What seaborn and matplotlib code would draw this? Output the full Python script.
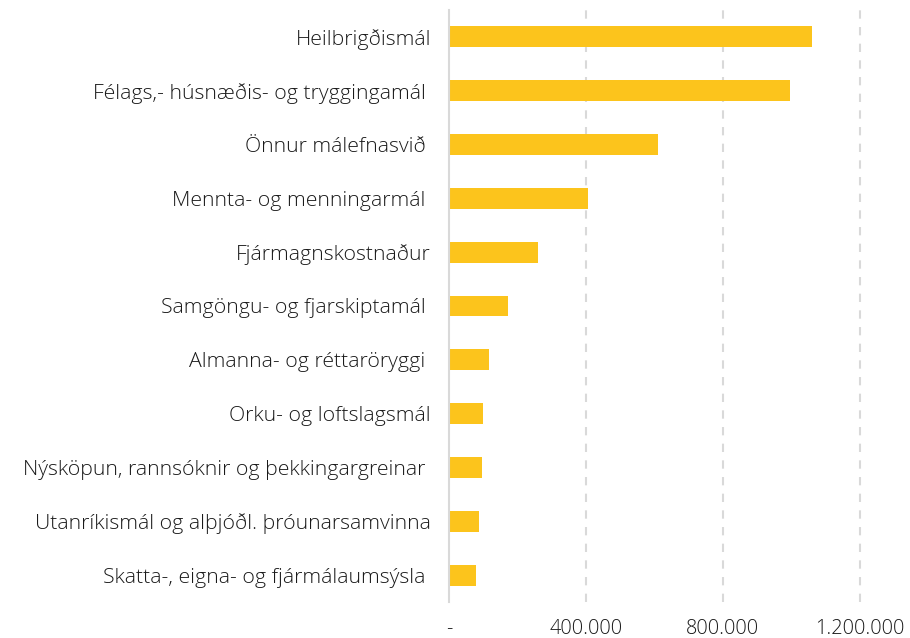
import matplotlib
matplotlib.use("Agg")
import matplotlib.pyplot as plt
import seaborn as sns
import pandas as pd
from matplotlib.ticker import FixedLocator

categories = [
    "Heilbrigðismál",
    "Félags,- húsnæðis- og tryggingamál ",
    "Önnur málefnasvið ",
    "Mennta- og menningarmál ",
    "Fjármagnskostnaður",
    "Samgöngu- og fjarskiptamál ",
    "Almanna- og réttaröryggi ",
    "Orku- og loftslagsmál",
    "Nýsköpun, rannsóknir og þekkingargreinar ",
    "Utanríkismál og alþjóðl. þróunarsamvinna",
    "Skatta-, eigna- og fjármálaumsýsla ",
]
values = [1059600, 995600, 610000, 406000, 260000, 172000, 116000, 99000, 96500, 88000, 80000]
xticks = [0, 400000, 800000, 1200000]
xtick_labels = ["-", "400.000", "800.000", "1.200.000"]

df = pd.DataFrame({"cat": categories, "val": values})

sns.set_theme(style="white")
plt.rcParams["font.family"] = ["Open Sans", "DejaVu Sans"]

fig = plt.figure(figsize=(9.1, 6.38), dpi=100)
ax = fig.add_axes([449 / 910, 1 - 602 / 638, (894 - 449) / 910, 592 / 638])

sns.barplot(data=df, x="val", y="cat", color="#FCC41C", width=0.39, ax=ax,
            saturation=1, edgecolor="none")

ax.set_xlim(0, 1300000)
ax.set_ylim(10.5, -0.5)
ax.xaxis.set_major_locator(FixedLocator(xticks))
ax.set_xticklabels(xtick_labels)
ax.set_xlabel("")
ax.set_ylabel("")

for x in xticks[1:]:
    ax.axvline(x, color="#D9D9D9", linestyle=(0, (4, 4)), linewidth=1.5, zorder=0)

for s in ["top", "right", "bottom"]:
    ax.spines[s].set_visible(False)
ax.spines["left"].set_color("#D9D9D9")
ax.spines["left"].set_linewidth(1.5)

ax.tick_params(axis="y", length=0, pad=13, labelsize=15.3, labelcolor="#1a1a1a")
ax.tick_params(axis="x", length=0, pad=12, labelsize=14.3, labelcolor="#1a1a1a")
for lbl in ax.get_yticklabels() + ax.get_xticklabels():
    lbl.set_fontweight("light")

fig.savefig("out.png", dpi=100)
